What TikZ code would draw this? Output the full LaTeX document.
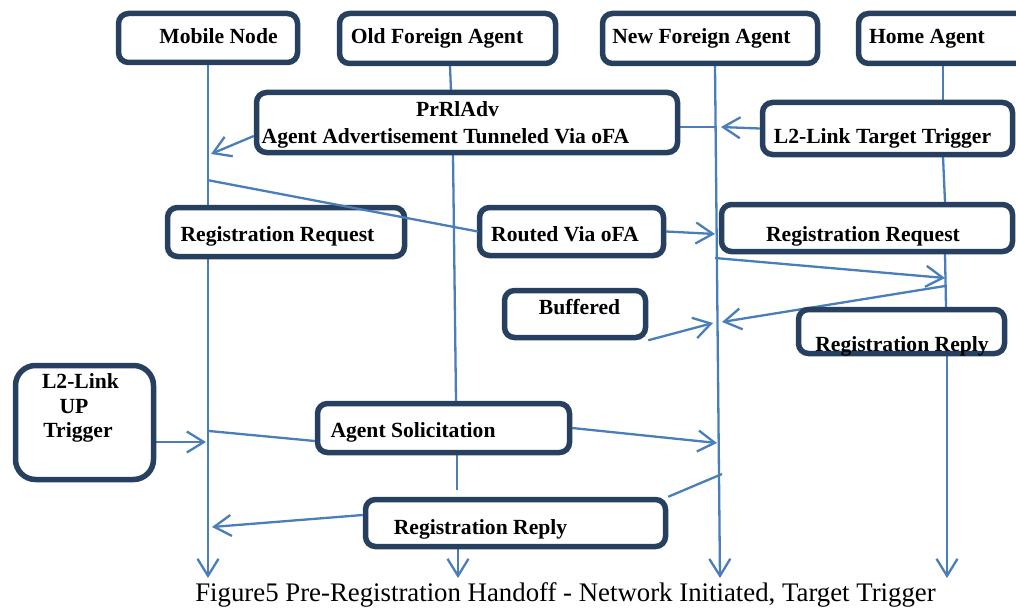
\documentclass[tikz,border=0pt]{standalone}
\usepackage{fontspec}
\setmainfont{Liberation Serif}
\usetikzlibrary{arrows.meta}
\definecolor{boxc}{RGB}{40,64,96}
\definecolor{linec}{RGB}{74,126,187}
\pgfdeclarelayer{bg}
\pgfsetlayers{bg,main}
\tikzset{
  box/.style={draw=boxc, line width=5.5pt, rounded corners=10pt, fill=white, inner sep=0pt},
  txt/.style={font=\bfseries\fontsize{21.6}{24}\selectfont, anchor=base, inner sep=0pt},
  captxt/.style={font=\fontsize{26.8}{30}\selectfont, anchor=base, inner sep=0pt},
  ln/.style={draw=linec, line width=2.3pt},
  arr/.style={ln, -{Straight Barb[length=17pt,width=21pt]}}
}
\begin{document}
\begin{tikzpicture}[x=1pt,y=-1pt]
\clip (0,0) rectangle (1016,607);
\useasboundingbox (0,0) rectangle (1016,607);
% boxes
\node[box, minimum width=179pt, minimum height=49pt] (mn) at (208,38) {};
\node[box, minimum width=216pt, minimum height=50pt] (ofa) at (447.5,38.5) {};
\node[box, minimum width=215pt, minimum height=50pt] (nfa) at (710,38.5) {};
\node[box, minimum width=169pt, minimum height=50pt] (ha) at (943,38.5) {};
\node[box, minimum width=421pt, minimum height=60pt] (adv) at (467,122.5) {};
\node[box, minimum width=250pt, minimum height=52pt] (l2t) at (887.5,128.5) {};
\node[box, minimum width=237pt, minimum height=49pt] (rrq1) at (286,232) {};
\node[box, minimum width=184pt, minimum height=48pt] (rvo) at (571.5,231.5) {};
\node[box, minimum width=291pt, minimum height=47pt] (rrq2) at (867,228) {};
\node[box, minimum width=141pt, minimum height=47pt] (buf) at (575,314) {};
\node[box, minimum width=206pt, minimum height=44pt] (rrp2) at (901.5,331.5) {};
\node[box, rounded corners=20pt, minimum width=138pt, minimum height=114pt] (l2u) at (84.5,422.5) {};
\node[box, minimum width=252pt, minimum height=49pt] (as) at (443.5,428) {};
\node[box, minimum width=300pt, minimum height=47pt] (rrp1) at (515.5,523) {};
% texts
\node[txt] (tmn) at (218.5,44) {Mobile Node};
\node[txt] (tofa) at (437,44) {Old Foreign Agent};
\node[txt] (tnfa) at (701.5,44) {New Foreign Agent};
\node[txt] (tha) at (927,44) {Home Agent};
\node[txt] (tadv1) at (457.5,117) {PrRlAdv};
\node[txt] (tadv2) at (445.5,143) {Agent Advertisement Tunneled Via oFA};
\node[txt] (tl2t) at (882.5,143) {L2-Link Target Trigger};
\node[txt] (trrq1) at (277.5,241) {Registration Request};
\node[txt] (trvo) at (565,241) {Routed Via oFA};
\node[txt] (trrq2) at (863,241) {Registration Request};
\node[txt] (tbuf) at (579.5,314) {Buffered};
\node[txt] (trrp2) at (902,351) {Registration Reply};
\node[txt] (tl2u1) at (80.5,388) {L2-Link};
\node[txt] (tl2u2) at (74,413) {UP};
\node[txt] (tl2u3) at (78,437) {Trigger};
\node[txt] (tas) at (413,437) {Agent Solicitation};
\node[txt] (trrp1) at (480.5,534) {Registration Reply};
\node[captxt] (caption) at (565.5,601) {Figure5 Pre-Registration Handoff - Network Initiated, Target Trigger};
% lifeline points
\coordinate (m1) at (208,205);
\coordinate (m2) at (208,259);
\coordinate (mE) at (208,578);
\coordinate (mA) at (211,154);
\coordinate (mB) at (207,180);
\coordinate (mC) at (206,442);
\coordinate (mD) at (209,431);
\coordinate (mF) at (212,527);
\coordinate (o0) at (450,66);
\coordinate (o1) at (451,91);
\coordinate (o2) at (453,155);
\coordinate (o3) at (456,401);
\coordinate (o4) at (457,455);
\coordinate (o5) at (457,490);
\coordinate (o6) at (458,549);
\coordinate (o7) at (458,578);
\coordinate (n0) at (715,66);
\coordinate (nE) at (720,578);
\coordinate (nA) at (715,127);
\coordinate (nB) at (721,127);
\coordinate (nC) at (715,234);
\coordinate (nD) at (715,258);
\coordinate (nT) at (722,322);
\coordinate (nF) at (713,323);
\coordinate (nG) at (717,443);
\coordinate (nH) at (722,474);
\coordinate (h0) at (943,66);
\coordinate (h1) at (943,100);
\coordinate (h2) at (943,157);
\coordinate (h3) at (945,202);
\coordinate (h4) at (945,254);
\coordinate (h5) at (946,307);
\coordinate (h6) at (947,356);
\coordinate (h7) at (947,578);
\coordinate (hA) at (945,278);
\coordinate (hB) at (945,286);
\begin{pgfonlayer}{bg}
% lifelines
\draw[ln] (mn.south) -- (m1);
\draw[arr] (m2) -- (mE);
\draw[ln] (o0) -- (o1);
\draw[ln] (o2) -- (o3);
\draw[ln] (o4) -- (o5);
\draw[arr] (o6) -- (o7);
\draw[arr] (n0) -- (nE);
\draw[ln] (h0) -- (h1);
\draw[ln] (h2) -- (h3);
\draw[ln] (h4) -- (h5);
\draw[arr] (h6) -- (h7);
% messages
\draw[arr] ([yshift=-13.5pt]adv.west) -- (mA);
\draw[ln] ([yshift=-4.5pt]adv.east) -- (nA);
\draw[arr] (l2t.west) -- (nB);
\draw[arr] (rvo.east) -- (nC);
\draw[arr] (nD) -- (hA);
\draw[arr] (hB) -- (nT);
\draw[arr] (buf.south east) -- (nF);
\draw[arr] ([yshift=-19.5pt]l2u.east) -- (mC);
\draw[ln] (mD) -- ([yshift=-13pt]as.west);
\draw[arr] (as.east) -- (nG);
\draw[ln] (nH) -- (rrp1.north east);
\draw[arr] ([yshift=8pt]rrp1.west) -- (mF);
\end{pgfonlayer}
% this message crosses over the Registration Request box
\draw[ln] (mB) -- ([xshift=1pt]rvo.west);
\end{tikzpicture}
\end{document}
